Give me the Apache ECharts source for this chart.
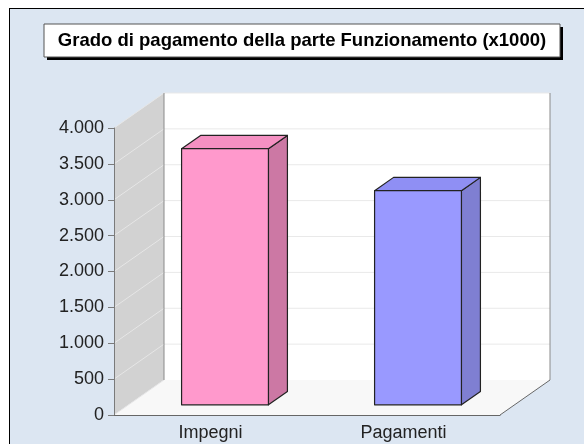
<!DOCTYPE html>
<html>
<head>
<meta charset="utf-8">
<script src="https://cdn.jsdelivr.net/npm/echarts@6/dist/echarts.min.js"></script>
<style>
  html, body { margin: 0; padding: 0; background: #fff; }
  #wrap { position: relative; width: 584px; height: 444px; overflow: hidden; background: #fff; }
  #bg { position: absolute; left: 9px; top: 8px; width: 600px; height: 460px;
        background: #dce6f2; border-left: 1.5px solid #000; border-top: 1.5px solid #000; }
  #chart { position: absolute; left: 0; top: 0; width: 584px; height: 444px; }
</style>
</head>
<body>
<div id="wrap">
  <div id="bg"></div>
  <div id="chart"></div>
</div>
<script>
(function(){

    // dati
    var categories = ['Impegni', 'Pagamenti'];
    var values = [3570, 2985];
    var yTicks = [0, 500, 1000, 1500, 2000, 2500, 3000, 3500, 4000];

    var frontColors = ['#ff99cc', '#9999ff'];
    var sideColors = ['#cc78a4', '#7f7fd2'];
    var topColors = ['#f490c2', '#8f8ff4'];

    // profondità prospettica (pixel)
    var DX = 50, DY = 35;

    function fmt(v) {
        return String(v).replace(/\B(?=(\d{3})+(?!\d))/g, '.');
    }

    var myChart = echarts.init(document.getElementById('chart'));

    // pareti, pavimento e griglia
    function renderFrame(params, api) {
        var cs = params.coordSys;
        var x0 = cs.x, x1 = cs.x + cs.width;
        var y0 = cs.y, y1 = cs.y + cs.height;
        var children = [];

        children.push({
            type: 'rect',
            shape: { x: x0 + DX, y: y0 - DY, width: cs.width, height: cs.height },
            style: { fill: '#ffffff', stroke: null }
        });
        children.push({
            type: 'polygon',
            shape: { points: [[x0, y1], [x0, y0], [x0 + DX, y0 - DY], [x0 + DX, y1 - DY]] },
            style: { fill: '#d2d2d2', stroke: null }
        });
        children.push({
            type: 'polygon',
            shape: { points: [[x0, y1], [x1, y1], [x1 + DX, y1 - DY], [x0 + DX, y1 - DY]] },
            style: { fill: '#f8f8f8', stroke: null }
        });

        yTicks.forEach(function (t) {
            var y = api.coord([0, t])[1];
            if (t > 0) {
                children.push({
                    type: 'line',
                    shape: { x1: x0 + DX, y1: y - DY, x2: x1 + DX, y2: y - DY },
                    style: { stroke: '#e9e9e9', lineWidth: 1 }
                });
            }
            children.push({
                type: 'line',
                shape: { x1: x0, y1: y, x2: x0 + DX, y2: y - DY },
                style: { stroke: '#e6e6e6', lineWidth: 1 }
            });
        });

        // bordi
        children.push({
            type: 'line',
            shape: { x1: x0 + DX, y1: y0 - DY, x2: x0 + DX, y2: y1 - DY },
            style: { stroke: '#8a8a8a', lineWidth: 1 }
        });
        children.push({
            type: 'line',
            shape: { x1: x1 + DX, y1: y0 - DY, x2: x1 + DX, y2: y1 - DY },
            style: { stroke: '#8a8a8a', lineWidth: 1 }
        });
        children.push({
            type: 'line',
            shape: { x1: x1, y1: y1, x2: x1 + DX, y2: y1 - DY },
            style: { stroke: '#666666', lineWidth: 1 }
        });

        return { type: 'group', children: children };
    }

    // barre 3D
    function renderBar(params, api) {
        var idx = api.value(0);
        var base = api.coord([idx, 0]);
        var top = api.coord([idx, api.value(1)]);
        var band = api.size([1, 0])[0];
        var w = band * 0.45;
        var fx = DX * 0.29, fy = DY * 0.29;
        var dx = DX * 0.38, dy = DY * 0.38;
        var l = base[0] + fx - w / 2, r = l + w;
        var b = base[1] - fy, t = top[1] - fy;
        var line = { stroke: '#222222', lineWidth: 1.2, lineJoin: 'round' };
        return {
            type: 'group',
            children: [
                {
                    type: 'polygon',
                    shape: { points: [[r, b], [r, t], [r + dx, t - dy], [r + dx, b - dy]] },
                    style: Object.assign({ fill: sideColors[idx] }, line)
                },
                {
                    type: 'polygon',
                    shape: { points: [[l, t], [r, t], [r + dx, t - dy], [l + dx, t - dy]] },
                    style: Object.assign({ fill: topColors[idx] }, line)
                },
                {
                    type: 'rect',
                    shape: { x: l, y: t, width: w, height: b - t },
                    style: Object.assign({ fill: frontColors[idx] }, line)
                }
            ]
        };
    }

    var barData = values.map(function (v, i) { return [i, v]; });

    var option = {
        animation: false,
        backgroundColor: 'transparent',
        grid: { left: 114, right: 84, top: 128, bottom: 29 },
        graphic: [
            {
                type: 'rect', z: 100,
                shape: { x: 47, y: 27, width: 516, height: 33 },
                style: { fill: '#000000' }
            },
            {
                type: 'rect', z: 101,
                shape: { x: 44, y: 24, width: 516, height: 33 },
                style: { fill: '#ffffff', stroke: '#555555', lineWidth: 1 }
            },
            {
                type: 'text', z: 102,
                x: 302, y: 41,
                style: {
                    text: 'Grado di pagamento della parte Funzionamento (x1000)',
                    fill: '#000000',
                    font: 'bold 18.5px "Liberation Sans", Arial, sans-serif',
                    align: 'center',
                    verticalAlign: 'middle'
                }
            }
        ],
        xAxis: {
            type: 'category',
            data: categories,
            z: 10,
            axisLine: { show: true, lineStyle: { color: '#666666', width: 1 } },
            axisTick: { show: false },
            axisLabel: {
                color: '#222222',
                fontSize: 18,
                fontFamily: '"Liberation Sans", Arial, sans-serif',
                margin: 9
            },
            splitLine: { show: false }
        },
        yAxis: {
            type: 'value',
            min: 0,
            max: 4000,
            interval: 500,
            z: 10,
            axisLine: { show: true, lineStyle: { color: '#7a7a7a', width: 1 } },
            axisTick: { show: true, length: 6, lineStyle: { color: '#7a7a7a' } },
            axisLabel: {
                color: '#222222',
                fontSize: 18,
                fontFamily: '"Liberation Sans", Arial, sans-serif',
                margin: 10,
                formatter: function (v) { return fmt(v); }
            },
            splitLine: { show: false }
        },
        series: [
            {
                type: 'custom',
                z: 1,
                silent: true,
                renderItem: renderFrame,
                data: [[0, 0]]
            },
            {
                type: 'custom',
                name: 'Grado di pagamento',
                z: 3,
                renderItem: renderBar,
                encode: { x: 0, y: 1 },
                data: barData
            }
        ]
    };

    myChart.setOption(option);

})();
</script>
</body>
</html>
